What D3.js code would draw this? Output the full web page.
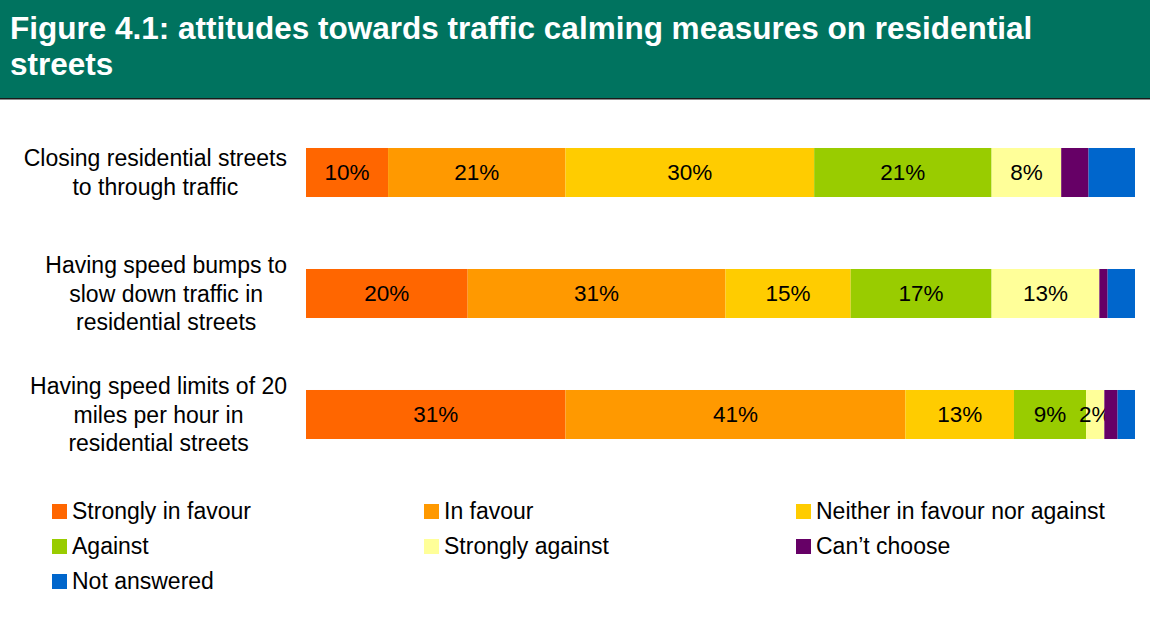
<!DOCTYPE html>
<html><head><meta charset="utf-8">
<script src="https://cdn.jsdelivr.net/npm/d3@7"></script>
<style>body{margin:0;background:#fff;} svg{display:block;font-family:"Liberation Sans",Arial,sans-serif;}</style>
</head><body>
<svg id="c" width="1150" height="627"></svg>
<script>
const titleLines = ["Figure 4.1: attitudes towards traffic calming measures on residential", "streets"];
const categories = ["closing", "bumps", "limits"];
const categoryLabels = [
  ["Closing residential streets", "to through traffic"],
  ["Having speed bumps to", "slow down traffic in", "residential streets"],
  ["Having speed limits of 20", "miles per hour in", "residential streets"]
];
const seriesNames = ["Strongly in favour", "In favour", "Neither in favour nor against", "Against", "Strongly against", "Can\u2019t choose", "Not answered"];
const seriesColors = ["#FF6600", "#FF9900", "#FFCC00", "#99CC00", "#FFFF99", "#660066", "#0066CC"];
const stronglyInFavour = [9.9, 19.5, 31.3];
const inFavour = [21.4, 31.1, 41.0];
const neither = [30.0, 15.1, 13.1];
const against = [21.4, 17.0, 8.7];
const stronglyAgainst = [8.4, 13.0, 2.2];
const cantChoose = [3.3, 1.0, 1.6];
const notAnswered = [5.6, 3.3, 2.1];
const labelledSeries = [true, true, true, true, true, false, false];

const series = [stronglyInFavour, inFavour, neither, against, stronglyAgainst, cantChoose, notAnswered];
const rows = categories.map((c, i) => {
  const o = {cat: c};
  seriesNames.forEach((s, j) => o[s] = series[j][i]);
  return o;
});
const stack = d3.stack().keys(seriesNames)(rows);

const svg = d3.select("#c");
// title band
svg.append("rect").attr("x", 0).attr("y", 0).attr("width", 1150).attr("height", 98).attr("fill", "#00735F");
svg.append("rect").attr("x", 0).attr("y", 98).attr("width", 1150).attr("height", 1.5).attr("fill", "#1a1a1a");
svg.append("g").selectAll("text").data(titleLines).join("text")
  .attr("x", 10).attr("y", (d, i) => 39 + i * 36)
  .attr("fill", "#fff").attr("font-weight", "bold").attr("font-size", 31.5)
  .text(d => d);

const x = d3.scaleLinear().domain([0, 100]).range([306, 1135]);
const y = d3.scaleBand().domain(categories).range([112, 475]).paddingInner(0.595).paddingOuter(0.2975);

const g = svg.append("g");
stack.forEach((layer, j) => {
  g.append("g").attr("fill", seriesColors[j]).selectAll("rect").data(layer).join("rect")
    .attr("x", d => x(d[0])).attr("y", d => y(d.data.cat))
    .attr("width", d => x(d[1]) - x(d[0])).attr("height", y.bandwidth());
  if (labelledSeries[j]) {
    g.append("g").selectAll("text").data(layer).join("text")
      .attr("x", d => (x(d[0]) + x(d[1])) / 2)
      .attr("y", d => y(d.data.cat) + y.bandwidth() / 2)
      .attr("dy", "0.35em").attr("text-anchor", "middle")
      .attr("font-size", 22.5).attr("fill", "#000")
      .text(d => Math.round(d[1] - d[0]) + "%");
  }
});

// category labels
const lh = 28.5;
categories.forEach((c, i) => {
  const lines = categoryLabels[i];
  const grp = svg.append("g");
  const t = grp.append("text").attr("font-size", 23).attr("fill", "#000").attr("text-anchor", "middle");
  const cy = y(c) + y.bandwidth() / 2;
  lines.forEach((l, k) => {
    t.append("tspan").attr("x", 0).attr("y", cy + (k - (lines.length - 1) / 2) * lh).attr("dy", "0.35em").text(l);
  });
  const w = t.node().getBBox().width;
  grp.attr("transform", `translate(${287 - w / 2},0)`);
});

// legend
const legendCols = [52, 424, 796];
const legendRows = [511, 546, 581];
const lg = svg.append("g").selectAll("g").data(seriesNames).join("g")
  .attr("transform", (d, i) => `translate(${legendCols[i % 3]},${legendRows[Math.floor(i / 3)]})`);
lg.append("rect").attr("x", 0).attr("y", -7).attr("width", 15).attr("height", 15).attr("fill", (d, i) => seriesColors[i]);
lg.append("text").attr("x", 20).attr("dy", "0.35em").attr("font-size", 23).attr("fill", "#000").text(d => d);
</script>
</body></html>
